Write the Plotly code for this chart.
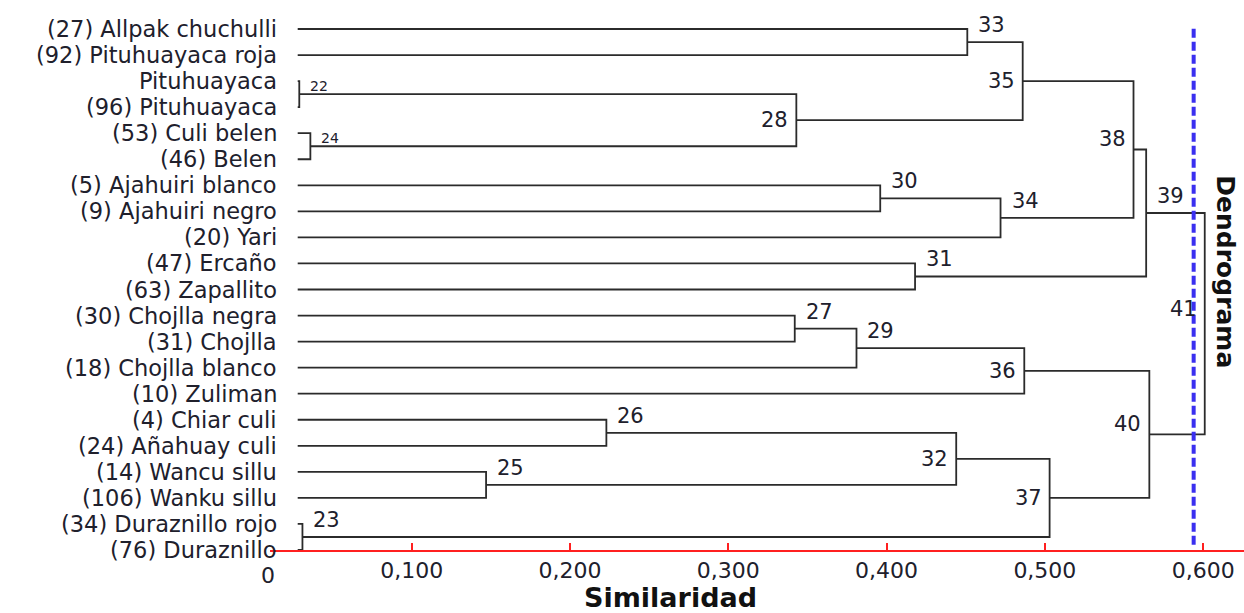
import plotly.graph_objects as go

# Leaves, top to bottom
leaf_labels = [
    "(27) Allpak chuchulli", "(92) Pituhuayaca roja", "Pituhuayaca",
    "(96) Pituhuayaca", "(53) Culi belen", "(46) Belen",
    "(5) Ajahuiri blanco", "(9) Ajahuiri negro", "(20) Yari",
    "(47) Ercaño", "(63) Zapallito", "(30) Chojlla negra", "(31) Chojlla",
    "(18) Chojlla blanco", "(10) Zuliman", "(4) Chiar culi",
    "(24) Añahuay culi", "(14) Wancu sillu", "(106) Wanku sillu",
    "(34) Duraznillo rojo", "(76) Duraznillo",
]

# Agglomeration steps: cluster id, joined nodes (leaf index < 21, else cluster id), level
merge_ids = [22, 23, 24, 25, 26, 27, 28, 29, 30, 31,
             32, 33, 34, 35, 36, 37, 38, 39, 40, 41]
merge_left = [2, 19, 4, 17, 15, 11, 22, 27, 6, 9,
              26, 0, 30, 33, 29, 32, 35, 38, 36, 39]
merge_right = [3, 20, 5, 18, 16, 12, 24, 13, 7, 10,
               25, 1, 8, 28, 14, 23, 34, 31, 37, 40]
merge_level = [0.029, 0.031, 0.036, 0.147, 0.223, 0.342, 0.343, 0.381, 0.396, 0.418,
               0.444, 0.451, 0.472, 0.486, 0.487, 0.503, 0.556, 0.564, 0.566, 0.601]

leaf_level = 0.028      # level where the leaf branches start
cut_level = 0.594       # dashed cut line

tick_values = [0.1, 0.2, 0.3, 0.4, 0.5, 0.6]
tick_text = ["0,100", "0,200", "0,300", "0,400", "0,500", "0,600"]

# node positions
pos = {i: (leaf_level, float(i)) for i in range(len(leaf_labels))}
for cid, a, b, h in zip(merge_ids, merge_left, merge_right, merge_level):
    pos[cid] = (h, (pos[a][1] + pos[b][1]) / 2)

xs, ys = [], []
for cid, a, b, h in zip(merge_ids, merge_left, merge_right, merge_level):
    xa, ya = pos[a]
    xb, yb = pos[b]
    xs += [xa, h, h, xb, None]
    ys += [ya, ya, yb, yb, None]

fig = go.Figure()
fig.add_trace(go.Scatter(
    x=xs, y=ys, mode="lines",
    line=dict(color="#2b2b2b", width=1.8),
    hoverinfo="skip", showlegend=False,
))

FONT = "DejaVu Sans"
TXT = "#20202c"

# leaf names
for i, name in enumerate(leaf_labels):
    fig.add_annotation(
        x=leaf_level, y=i, text=name, showarrow=False,
        xanchor="right", yanchor="middle", xshift=-19,
        font=dict(family=FONT, size=22.5, color=TXT),
    )

# cluster numbers: "r" = right of the join, above its branch; "l" = left of the join
label_side = {22: "r", 23: "r", 24: "r", 25: "r", 26: "r", 27: "r", 28: "l",
              29: "r", 30: "r", 31: "r", 32: "l", 33: "r", 34: "r", 35: "l",
              36: "l", 37: "l", 38: "l", 39: "r", 40: "l", 41: "l"}
label_lift = {38: 11, 40: 10, 41: 15}
small_labels = {22, 24}

for cid, a, b, h in zip(merge_ids, merge_left, merge_right, merge_level):
    y = pos[cid][1]
    size = 14 if cid in small_labels else 21
    if label_side[cid] == "r":
        fig.add_annotation(
            x=h, y=y, text=str(cid), showarrow=False,
            xanchor="left", yanchor="middle", xshift=9,
            yshift=8 if cid in small_labels else 17,
            font=dict(family=FONT, size=size, color=TXT),
        )
    else:
        fig.add_annotation(
            x=h, y=y, text=str(cid), showarrow=False,
            xanchor="right", yanchor="middle", xshift=-6,
            yshift=label_lift.get(cid, 0),
            font=dict(family=FONT, size=size, color=TXT),
        )

# cut line
fig.add_shape(
    type="line", xref="x", yref="paper",
    x0=cut_level, x1=cut_level, y0=0.01, y1=0.983,
    line=dict(color="#3a2ff0", width=4, dash="9px,4px"),
)

# axis origin label
fig.add_annotation(
    xref="paper", yref="paper", x=0, y=0, text="0", showarrow=False,
    xanchor="center", yanchor="top", xshift=-2, yshift=-11,
    font=dict(family=FONT, size=22, color=TXT),
)

fig.add_annotation(
    xref="paper", yref="paper", x=0.4107, y=0, text="<b>Similaridad</b>",
    showarrow=False, xanchor="center", yanchor="bottom", yshift=-65,
    font=dict(family=FONT, size=27, color="#111111"),
)

fig.add_annotation(
    xref="paper", yref="paper", x=0.9815, y=0.52, text="<b>Dendrograma</b>",
    showarrow=False, textangle=90, xanchor="center", yanchor="middle",
    font=dict(family=FONT, size=25, color="#111111"),
)

fig.update_xaxes(
    range=[0.0105, 0.6258], tickvals=tick_values, ticktext=tick_text,
    showgrid=False, zeroline=False, showline=True, linecolor="#ff2020", linewidth=1.5,
    ticks="inside", ticklen=7, tickcolor="#ff2020", tickwidth=1.5,
    tickfont=dict(family=FONT, size=22, color=TXT),
)
fig.update_yaxes(range=[20, -0.5], visible=False)

fig.update_layout(
    width=1244, height=613,
    margin=dict(l=270, r=0, t=16, b=63),
    plot_bgcolor="white", paper_bgcolor="white",
    showlegend=False,
)

fig.write_html("out.html")
